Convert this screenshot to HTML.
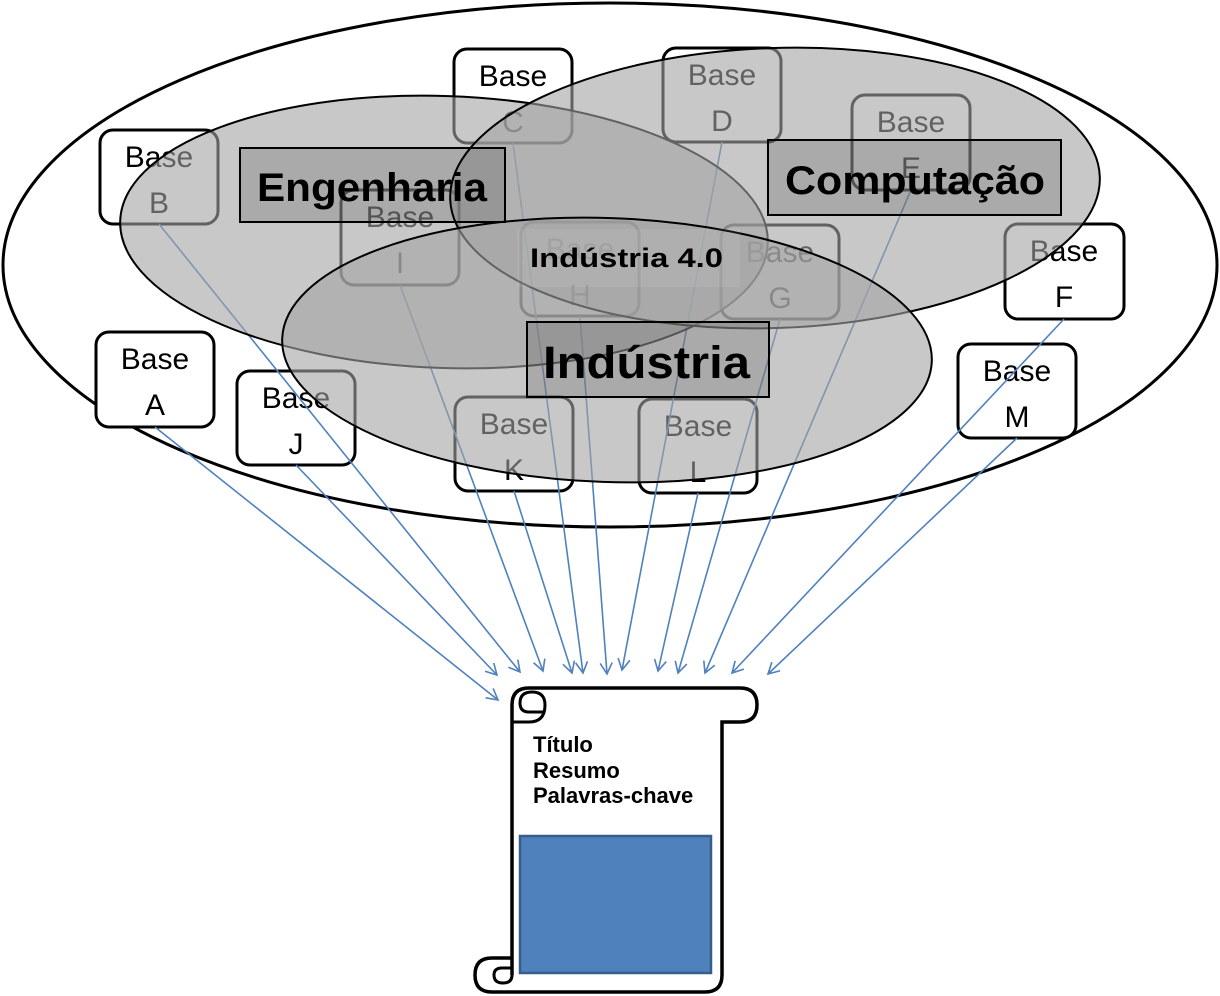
<!DOCTYPE html>
<html><head><meta charset="utf-8"><style>
html,body{margin:0;padding:0;background:#fff;}
svg{display:block;}
text{font-family:"Liberation Sans",sans-serif;}
</style></head><body>
<svg width="1220" height="996" viewBox="0 0 1220 996" xmlns="http://www.w3.org/2000/svg">
<defs>
<marker id="ah" markerWidth="14" markerHeight="14" refX="12" refY="7" orient="auto" markerUnits="userSpaceOnUse">
<path d="M1,1 L12,7 L1,13" fill="none" stroke="#4f81bd" stroke-width="1.6"/>
</marker>
</defs>
<ellipse cx="610" cy="265" rx="607" ry="262" fill="#fff" stroke="#000" stroke-width="3"/>
<g fill="#fff" stroke="#000" stroke-width="3">
<rect x="96" y="332" width="118" height="95" rx="13"/>
<rect x="100" y="130" width="118" height="94" rx="13"/>
<rect x="454" y="49" width="118" height="94" rx="13"/>
<rect x="663" y="48" width="118" height="94" rx="13"/>
<rect x="852" y="95" width="118" height="95" rx="13"/>
<rect x="1005" y="224" width="119" height="95" rx="13"/>
<rect x="721" y="225" width="118" height="94" rx="13"/>
<rect x="521" y="222" width="118" height="94" rx="13"/>
<rect x="341" y="190" width="118" height="95" rx="13"/>
<rect x="237" y="371" width="118" height="94" rx="13"/>
<rect x="455" y="397" width="118" height="94" rx="13"/>
<rect x="639" y="399" width="118" height="94" rx="13"/>
<rect x="958" y="344" width="118" height="94" rx="13"/>
</g>
<g font-size="30" text-anchor="middle" fill="#000">
<text x="155" y="369">Base</text><text x="155" y="415">A</text>
<text x="159" y="167">Base</text><text x="159" y="213">B</text>
<text x="513" y="86">Base</text><text x="513" y="132">C</text>
<text x="722" y="85">Base</text><text x="722" y="131">D</text>
<text x="911" y="132">Base</text><text x="911" y="178">E</text>
<text x="1064" y="261">Base</text><text x="1064" y="307">F</text>
<text x="780" y="262">Base</text><text x="780" y="308">G</text>
<text x="580" y="259">Base</text><text x="580" y="305">H</text>
<text x="400" y="227">Base</text><text x="400" y="273">I</text>
<text x="296" y="408">Base</text><text x="296" y="454">J</text>
<text x="514" y="434">Base</text><text x="514" y="480">K</text>
<text x="698" y="436">Base</text><text x="698" y="482">L</text>
<text x="1017" y="381">Base</text><text x="1017" y="427">M</text>
</g>
<g stroke="#4f81bd" stroke-width="1.6" fill="none" marker-end="url(#ah)">
<line x1="155" y1="427" x2="498" y2="700"/>
<line x1="296" y1="465" x2="497" y2="675"/>
<line x1="159" y1="224" x2="520" y2="672"/>
<line x1="400" y1="285" x2="543" y2="671"/>
<line x1="514" y1="491" x2="572" y2="673"/>
<line x1="513" y1="143" x2="583" y2="673"/>
<line x1="580" y1="316" x2="607" y2="674"/>
<line x1="722" y1="142" x2="622" y2="670"/>
<line x1="698" y1="493" x2="658" y2="671"/>
<line x1="780" y1="319" x2="678" y2="673"/>
<line x1="911" y1="190" x2="705" y2="673"/>
<line x1="1064" y1="319" x2="732" y2="673"/>
<line x1="1017" y1="438" x2="768" y2="674"/>
</g>
<g fill="rgba(164,164,164,0.6)" stroke="#000" stroke-width="2">
<ellipse cx="444" cy="232" rx="324" ry="136" transform="rotate(2 444 232)"/>
<ellipse cx="775" cy="188" rx="325" ry="140" transform="rotate(-2 775 188)"/>
<ellipse cx="607" cy="350" rx="325" ry="132" transform="rotate(2 607 350)"/>
</g>
<rect x="240" y="148" width="265" height="74" fill="rgba(0,0,0,0.15)" stroke="#000" stroke-width="2"/>
<text x="257" y="201" font-size="40" font-weight="bold" textLength="230" lengthAdjust="spacingAndGlyphs">Engenharia</text>
<rect x="768" y="140" width="293" height="75" fill="rgba(0,0,0,0.15)" stroke="#000" stroke-width="2"/>
<text x="785" y="194" font-size="40" font-weight="bold" textLength="260" lengthAdjust="spacingAndGlyphs">Computação</text>
<rect x="517" y="229" width="223" height="58" fill="rgba(255,255,255,0.08)"/>
<text x="530" y="267" font-size="27" font-weight="bold" textLength="193" lengthAdjust="spacingAndGlyphs">Indústria 4.0</text>
<rect x="527" y="322" width="242" height="75" fill="rgba(0,0,0,0.15)" stroke="#000" stroke-width="2"/>
<text x="543" y="378" font-size="45" font-weight="bold" textLength="207" lengthAdjust="spacingAndGlyphs">Indústria</text>
<g stroke="#000" stroke-width="3.5" fill="#fff">
<path d="M512,975 L512,705 Q512,688 529,688 L740,688 Q757,688 757,705 Q757,722 740,722 L722,722 L722,975 Q722,992 705,992 L492,992 Q475,992 475,975 Q475,958 492,958 L512,958"/>
<path d="M512,722 L529,722 Q545,722 545,705 Q545,692 532,692 Q520,692 520,703 Q520,712 529,712 L545,712" fill="none" stroke-width="3"/>
<path d="M512,958 L512,975 Q512,983 503,983 Q494,983 494,975 Q494,968 502,968 L512,968" fill="none" stroke-width="3"/>
</g>
<g font-size="22" font-weight="bold" fill="#000">
<text x="533" y="752">Título</text>
<text x="533" y="778">Resumo</text>
<text x="533" y="803">Palavras-chave</text>
</g>
<rect x="520" y="836" width="191" height="137" fill="#4f81bd" stroke="#385d8a" stroke-width="2.5"/>
</svg>
</body></html>
